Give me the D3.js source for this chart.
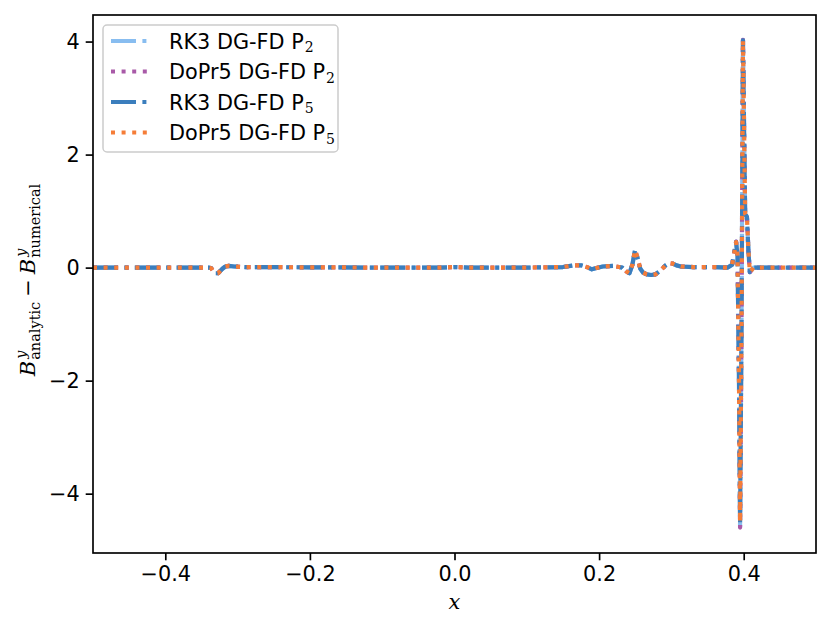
<!DOCTYPE html>
<html><head><meta charset="utf-8">
<script src="https://cdn.jsdelivr.net/npm/d3@7"></script>
<style>body{margin:0;background:#fff}</style>
</head><body><svg id="c" width="831" height="630"></svg>
<script>
const xs = [-0.5,-0.4,-0.34,-0.3365,-0.334,-0.331,-0.327,-0.324,-0.321,-0.317,-0.312,-0.305,-0.29,-0.2,-0.1,-0.02,0.0,0.02,0.1,0.15,0.165,0.175,0.185,0.19,0.195,0.205,0.22,0.232,0.238,0.242,0.246,0.2497,0.253,0.257,0.261,0.266,0.272,0.278,0.283,0.288,0.292,0.297,0.302,0.307,0.313,0.33,0.36,0.378,0.384,0.3875,0.3895,0.3915,0.3935,0.395,0.397,0.399,0.4005,0.402,0.4045,0.4065,0.4085,0.4105,0.4135,0.418,0.43,0.5];
const rk3P2 = [0,0,0,-0.01,-0.06,-0.1,-0.1,-0.06,-0.02,0.02,0.03,0.02,0.01,0.005,0,0,0.01,0,0,0.01,0.04,0.04,0,-0.03,-0.01,0.02,0.03,0,-0.07,-0.1,0.05,0.31,0.18,-0.02,-0.09,-0.12,-0.13,-0.12,-0.07,-0.01,0.04,0.08,0.07,0.04,0.02,0.01,0.01,0,0.05,0.3,0.46,0.2,-2.0,-4.58,-1.0,4.03,2.5,0.95,0.9,0.3,-0.08,-0.05,0,0,0,0];
const doPr5P2 = [0,0,0,-0.01,-0.06,-0.1,-0.1,-0.06,-0.02,0.02,0.03,0.02,0.01,0.005,0,0,0.01,0,0,0.01,0.04,0.04,0,-0.03,-0.01,0.02,0.03,0,-0.07,-0.1,0.05,0.31,0.18,-0.02,-0.09,-0.12,-0.13,-0.12,-0.07,-0.01,0.04,0.08,0.07,0.04,0.02,0.01,0.01,0,0.05,0.3,0.46,0.2,-2.0,-4.6,-1.0,4.03,2.5,0.95,0.9,0.3,-0.08,-0.05,0,0,0,0];
const rk3P5 = [0,0,0,-0.01,-0.06,-0.1,-0.1,-0.06,-0.02,0.02,0.03,0.02,0.01,0.005,0,0,0.01,0,0,0.01,0.04,0.04,0,-0.03,-0.01,0.02,0.03,0,-0.07,-0.1,0.05,0.31,0.18,-0.02,-0.09,-0.12,-0.13,-0.12,-0.07,-0.01,0.04,0.08,0.07,0.04,0.02,0.01,0.01,0,0.05,0.3,0.45,0.2,-2.0,-4.52,-1.0,4.02,2.5,0.95,0.9,0.3,-0.08,-0.05,0,0,0,0];
const doPr5P5 = [0,0,0,-0.01,-0.06,-0.1,-0.1,-0.06,-0.02,0.02,0.03,0.02,0.01,0.005,0,0,0.01,0,0,0.01,0.04,0.04,0,-0.03,-0.01,0.02,0.03,0,-0.07,-0.1,0.05,0.31,0.18,-0.02,-0.09,-0.12,-0.13,-0.12,-0.07,-0.01,0.04,0.08,0.07,0.04,0.02,0.01,0.01,0,0.05,0.3,0.45,0.2,-2.0,-4.5,-1.0,4.02,2.5,0.95,0.9,0.3,-0.08,-0.05,0,0,0,0];
const seriesNames = ["RK3 DG-FD P", "DoPr5 DG-FD P", "RK3 DG-FD P", "DoPr5 DG-FD P"];
const seriesSubs = ["2", "2", "5", "5"];
const xTicks = [-0.4,-0.2,0.0,0.2,0.4];
const yTicks = [-4,-2,0,2,4];

const series = [
  {vals: rk3P2, color: "#88bdf0", dash: "25,6.4,4,6.4"},
  {vals: doPr5P2, color: "#a95aa8", dash: "4,6.6"},
  {vals: rk3P5, color: "#3b7ebd", dash: "25,6.4,4,6.4"},
  {vals: doPr5P5, color: "#f57d38", dash: "4,6.6"}
];

const L = 93, R = 816, T = 15, B = 553;
const svg = d3.select("#c");
const x = d3.scaleLinear().domain([-0.5, 0.5]).range([L, R]);
const y = d3.scaleLinear().domain([-5.05, 4.47]).range([B, T]);
const sans = "DejaVu Sans, sans-serif";
const serif = "DejaVu Serif, Liberation Serif, serif";

svg.append("clipPath").attr("id","clip").append("rect").attr("x",L).attr("y",T).attr("width",R-L).attr("height",B-T);

const line = d3.line().x((d,i)=>x(xs[i])).y(d=>y(d));
const g = svg.append("g").attr("clip-path","url(#clip)");
series.forEach(s=>{
  g.append("path").attr("d", line(s.vals)).attr("fill","none")
   .attr("stroke", s.color).attr("stroke-width", 4.2)
   .attr("stroke-dasharray", s.dash).attr("stroke-linejoin","round");
});

// axes
const xAxis = svg.append("g").attr("transform",`translate(0,${B})`)
  .call(d3.axisBottom(x).tickValues(xTicks).tickFormat(d3.format(".1f")).tickSize(7.3).tickPadding(6));
const yAxis = svg.append("g").attr("transform",`translate(${L},0)`)
  .call(d3.axisLeft(y).tickValues(yTicks).tickFormat(d3.format("d")).tickSize(7.3).tickPadding(6));
[xAxis,yAxis].forEach(a=>{
  a.select(".domain").remove();
  a.selectAll(".tick line").attr("stroke","#000").attr("stroke-width",1.67);
  a.selectAll(".tick text").attr("fill","#000").style("font-family",sans).style("font-size","20.8px");
});
svg.append("rect").attr("x",L).attr("y",T).attr("width",R-L).attr("height",B-T)
  .attr("fill","none").attr("stroke","#000").attr("stroke-width",1.67);

// x label
svg.append("text").attr("x",(L+R)/2).attr("y",609).attr("text-anchor","middle")
  .style("font-family",serif).style("font-style","italic").style("font-size","21px").text("x");

// y label (math)
const yl = svg.append("g").attr("transform","translate(35,280) rotate(-90)");
const inner = yl.append("g");
let cx = 0;
function put(txt, size, dy, italic, xx){
  const t = inner.append("text").attr("x", xx).attr("y", dy)
    .style("font-family", serif).style("font-size", size+"px")
    .style("font-style", italic ? "italic" : "normal").text(txt);
  return t.node().getComputedTextLength();
}
function bterm(sub){
  cx += put("B", 21, 0, true, cx) + 1;
  const w1 = put("y", 14.5, -9, true, cx+1);
  const w2 = put(sub, 14.5, 5, false, cx);
  cx += Math.max(w1+1, w2);
}
bterm("analytic");
cx += 5;
cx += put("\u2212", 21, 0, false, cx);
cx += 5;
bterm("numerical");
inner.attr("transform", `translate(${-cx/2},0)`);

// legend
const leg = svg.append("g");
leg.append("rect").attr("x",103).attr("y",25).attr("width",235).attr("height",127)
  .attr("rx",4).attr("fill","#fff").attr("fill-opacity",0.8).attr("stroke","#cccccc").attr("stroke-width",1.5);
const rowY = [41, 71.5, 102, 132.5];
series.forEach((s,i)=>{
  leg.append("line").attr("x1",111).attr("x2",147.5).attr("y1",rowY[i]).attr("y2",rowY[i])
    .attr("stroke",s.color).attr("stroke-width",4.2).attr("stroke-dasharray",s.dash);
  const t = leg.append("text").attr("x",169).attr("y",rowY[i]+7.5)
    .style("font-family",sans).style("font-size","20.8px").attr("fill","#000");
  t.append("tspan").text(seriesNames[i]);
  t.append("tspan").attr("dy",3.5).attr("dx",1).style("font-family",serif).style("font-size","14px").text(seriesSubs[i]);
});
</script></body></html>
